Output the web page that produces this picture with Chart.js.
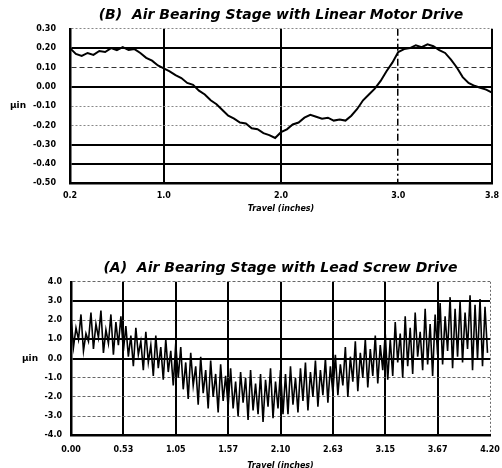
<!DOCTYPE html>
<html>
<head>
<meta charset="utf-8">
<script src="https://cdn.jsdelivr.net/npm/chart.js@4.4.0/dist/chart.umd.min.js"></script>
<style>
  html, body { margin: 0; padding: 0; background: #fff; overflow: hidden; }
  #topBox { position: absolute; left: 0; top: 0; width: 502px; height: 213px; }
  #bottomBox { position: absolute; left: 0; top: 222px; width: 502px; height: 248px; }
</style>
</head>
<body>
<div id="topBox"><canvas id="topChart"></canvas></div>
<div id="bottomBox"><canvas id="bottomChart"></canvas></div>
<script>
// (B) linear motor drive - travel (inches) vs error (µin)
const topTravel = [0.20, 0.25, 0.30, 0.35, 0.40, 0.45, 0.50, 0.55, 0.60, 0.65, 0.70, 0.75, 0.80, 0.85, 0.90, 0.95,
  1.00, 1.05, 1.10, 1.15, 1.20, 1.25, 1.30, 1.35, 1.40, 1.45, 1.50, 1.55, 1.60, 1.65, 1.70, 1.75, 1.80, 1.85, 1.90, 1.95,
  2.00, 2.05, 2.10, 2.15, 2.20, 2.25, 2.30, 2.35, 2.40, 2.45, 2.50, 2.55, 2.60, 2.65, 2.70, 2.75, 2.80, 2.85, 2.90, 2.95,
  3.00, 3.05, 3.10, 3.15, 3.20, 3.25, 3.30, 3.35, 3.40, 3.45, 3.50, 3.55, 3.60, 3.65, 3.70, 3.75, 3.80];
const topError = [0.20, 0.17, 0.16, 0.175, 0.165, 0.185, 0.18, 0.20, 0.19, 0.205, 0.19, 0.195, 0.175, 0.15, 0.135, 0.11,
  0.095, 0.08, 0.06, 0.045, 0.02, 0.01, -0.02, -0.04, -0.07, -0.09, -0.12, -0.15, -0.165, -0.185, -0.19, -0.215, -0.22, -0.24, -0.25, -0.265,
  -0.235, -0.22, -0.195, -0.185, -0.16, -0.145, -0.155, -0.165, -0.16, -0.175, -0.17, -0.175, -0.15, -0.115, -0.07, -0.04, -0.01, 0.03, 0.08, 0.125,
  0.18, 0.195, 0.20, 0.215, 0.205, 0.22, 0.21, 0.19, 0.175, 0.14, 0.10, 0.05, 0.02, 0.005, -0.005, -0.015, -0.03];
const topXTicks = [0.2, 1.0, 2.0, 3.0, 3.8];

// (A) lead screw drive - swing tops and bottoms every 0.05 in of travel
const bottomHighs = [2.2, 1.6, 2.3, 1.3, 2.4, 1.8, 2.5, 1.5, 2.3, 1.9, 2.2,
  1.7, 1.2, 1.6, 0.9, 1.4, 0.7, 1.2, 0.6, 1.0, 0.4, 0.8,
  0.6, -0.2, 0.3, -0.4, 0.1, -0.6, -0.1, -0.8, -0.3, -0.9,
  -0.5, -1.2, -0.7, -1.0, -0.6, -1.3, -0.8, -1.1, -0.5, -1.2, -0.6,
  -0.8, -0.4, -1.0, -0.5, -0.2, -0.7, -0.1, -0.6, 0.0, -0.4,
  0.2, -0.3, 0.6, 0.1, 0.9, 0.3, 1.0, 0.5, 1.2, 0.7, 1.3,
  1.0, 1.9, 1.3, 2.2, 1.6, 2.4, 1.4, 2.6, 1.8, 2.3,
  2.9, 2.2, 3.2, 2.6, 3.0, 2.4, 3.3, 2.8, 3.1, 2.7];
const bottomLows = [0.6, 1.0, 0.4, 0.9, 0.5, 1.1, 0.3, 0.8, 0.2, 0.7, 0.4,
  0.1, -0.4, 0.2, -0.6, -0.2, -0.9, -0.5, -1.1, -0.7, -1.4, -1.0,
  -1.6, -2.1, -1.4, -2.4, -1.8, -2.6, -2.0, -2.8, -2.2, -2.5,
  -2.6, -3.0, -2.3, -3.2, -2.7, -2.9, -3.3, -2.5, -3.1, -2.6, -2.9,
  -2.9, -2.4, -2.8, -2.2, -2.7, -2.0, -2.5, -1.9, -2.3, -1.8,
  -1.9, -1.4, -2.0, -1.2, -1.7, -1.0, -1.5, -0.9, -1.3, -0.6, -1.1,
  -0.9, -0.2, -1.0, -0.4, -0.8, 0.1, -0.6, -0.3, -0.9, 0.2,
  -0.3, 0.4, -0.5, 0.1, -0.2, 0.5, -0.6, 0.0, -0.4, 0.3];
const bottomStep = 0.05;
const bottomXTicks = [0.0, 0.525, 1.05, 1.575, 2.1, 2.625, 3.15, 3.675, 4.2];

const tickFont = { family: "DejaVu Sans", size: 8, weight: "bold" };
const titleFont = { family: "DejaVu Sans", size: 14, weight: "bold", style: "italic" };
const axisTitleFont = { family: "DejaVu Sans", size: 8, weight: "bold", style: "italic", lineHeight: 1 };

const unitLabel = {
  id: "unitLabel",
  afterDraw: (chart, args, opts) => {
    const c = chart.ctx;
    c.save();
    c.font = "bold 9px 'DejaVu Sans'";
    c.fillStyle = "#000";
    c.textAlign = "center";
    c.textBaseline = "middle";
    c.fillText(opts.text, opts.x, chart.scales.y.getPixelForValue(opts.at));
    c.restore();
  },
};

const near = (a, b) => Math.abs(a - b) < 1e-6;
const tickVal = (ctx) => (ctx.tick ? ctx.tick.value : null);
const noSidePadding = (scale) => {
  scale.paddingLeft = 0;
  scale.paddingRight = 0;
};

// top chart grid styles
const topYSolid = [0.2, 0.0, -0.3, -0.4];
const topYColor = (ctx) => {
  const v = tickVal(ctx);
  if (topYSolid.some((s) => near(s, v))) return "#000";
  if (near(v, 0.1)) return "#333";
  return "#888";
};
const topYWidth = (ctx) => (topYSolid.some((s) => near(s, tickVal(ctx))) ? 2 : 1);
const topYDash = (ctx) => {
  const v = tickVal(ctx);
  if (topYSolid.some((s) => near(s, v))) return [];
  if (near(v, 0.1)) return [5, 3];
  return [2, 2];
};

const topChart = new Chart(document.getElementById("topChart"), {
  type: "line",
  data: {
    datasets: [
      {
        data: topTravel.map((x, i) => ({ x: x, y: topError[i] })),
        borderColor: "#000",
        borderWidth: 2,
        pointRadius: 0,
        tension: 0,
      },
    ],
  },
  options: {
    responsive: true,
    maintainAspectRatio: false,
    animation: false,
    layout: { padding: { top: 6, right: 10, left: 0, bottom: 0 } },
    plugins: {
      legend: { display: false },
      tooltip: { enabled: false },
      title: {
        display: true,
        fullSize: false,
        text: "(B)  Air Bearing Stage with Linear Motor Drive",
        color: "#000",
        font: titleFont,
        padding: { top: 1, bottom: 5 },
      },
      unitLabel: { text: "µin", x: 18, at: -0.1 },
    },
    scales: {
      x: {
        type: "linear",
        min: 0.2,
        max: 3.8,
        afterBuildTicks: (scale) => {
          scale.ticks = topXTicks.map((v) => ({ value: v }));
        },
        afterFit: noSidePadding,
        ticks: {
          color: "#000",
          font: tickFont,
          padding: 8,
          maxRotation: 0,
          callback: (v) => Number(v).toFixed(1),
        },
        grid: {
          drawTicks: false,
          color: "#000",
          lineWidth: (ctx) => (near(tickVal(ctx), 3.0) ? 1.5 : 2),
        },
        border: {
          color: "#000",
          width: 2.5,
          dash: (ctx) => (near(tickVal(ctx), 3.0) ? [7, 3, 2, 3] : []),
        },
        title: {
          display: true,
          text: "Travel (inches)",
          color: "#000",
          font: axisTitleFont,
          padding: { top: -4, bottom: 0 },
        },
      },
      y: {
        min: -0.5,
        max: 0.3,
        afterFit: (scale) => {
          scale.width = 70;
        },
        ticks: {
          stepSize: 0.1,
          color: "#000",
          font: tickFont,
          padding: 14,
          callback: (v) => Number(v).toFixed(2),
        },
        grid: { drawTicks: false, color: topYColor, lineWidth: topYWidth },
        border: { color: "#000", width: 2.5, dash: topYDash },
      },
    },
  },
  plugins: [unitLabel],
});

// bottom chart grid styles
const botYSolid = [3, 1, 0];
const botYColor = (ctx) => (botYSolid.some((s) => near(s, tickVal(ctx))) ? "#000" : "#666");
const botYWidth = (ctx) => (botYSolid.some((s) => near(s, tickVal(ctx))) ? 2 : 1);
const botYDash = (ctx) => (botYSolid.some((s) => near(s, tickVal(ctx))) ? [] : [3, 2]);

const bottomPoints = [];
bottomHighs.forEach((hi, i) => {
  bottomPoints.push({ x: i * bottomStep, y: hi });
  bottomPoints.push({ x: i * bottomStep + bottomStep / 2, y: bottomLows[i] });
});

const bottomChart = new Chart(document.getElementById("bottomChart"), {
  type: "line",
  data: {
    datasets: [
      {
        data: bottomPoints,
        borderColor: "#000",
        borderWidth: 1.6,
        pointRadius: 0,
        tension: 0,
      },
    ],
  },
  options: {
    responsive: true,
    maintainAspectRatio: false,
    animation: false,
    layout: { padding: { top: 36, right: 12, left: 0, bottom: 0 } },
    plugins: {
      legend: { display: false },
      tooltip: { enabled: false },
      title: {
        display: true,
        fullSize: false,
        text: "(A)  Air Bearing Stage with Lead Screw Drive",
        color: "#000",
        font: titleFont,
        padding: { top: 2, bottom: 5 },
      },
      unitLabel: { text: "µin", x: 30, at: 0 },
    },
    scales: {
      x: {
        type: "linear",
        min: 0,
        max: 4.2,
        afterBuildTicks: (scale) => {
          scale.ticks = bottomXTicks.map((v) => ({ value: v }));
        },
        afterFit: noSidePadding,
        ticks: {
          color: "#000",
          font: tickFont,
          padding: 10,
          maxRotation: 0,
          callback: (v) => Number(v).toFixed(2),
        },
        grid: {
          drawTicks: false,
          color: (ctx) => (near(tickVal(ctx), 4.2) ? "#666" : "#000"),
          lineWidth: (ctx) => (near(tickVal(ctx), 4.2) ? 1 : 2),
        },
        border: {
          color: "#000",
          width: 2.5,
          dash: (ctx) => (near(tickVal(ctx), 4.2) ? [2, 2] : []),
        },
        title: {
          display: true,
          text: "Travel (inches)",
          color: "#000",
          font: axisTitleFont,
          padding: { top: -3, bottom: 0 },
        },
      },
      y: {
        min: -4,
        max: 4,
        afterFit: (scale) => {
          scale.width = 71;
        },
        ticks: {
          stepSize: 1,
          color: "#000",
          font: tickFont,
          padding: 9,
          callback: (v) => Number(v).toFixed(1),
        },
        grid: { drawTicks: false, color: botYColor, lineWidth: botYWidth },
        border: { color: "#000", width: 2.5, dash: botYDash },
      },
    },
  },
  plugins: [unitLabel],
});
</script>
</body>
</html>
